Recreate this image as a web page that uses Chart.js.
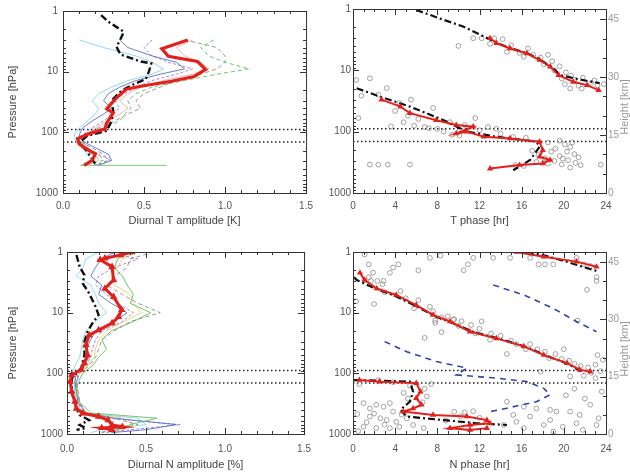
<!DOCTYPE html>
<html>
<head>
<meta charset="utf-8">
<script src="https://cdn.jsdelivr.net/npm/chart.js@4.4.1/dist/chart.umd.min.js"></script>
<style>
  body { margin: 0; background: #fff; }
  #wrap { position: relative; width: 630px; height: 475px; }
  canvas { position: absolute; }
</style>
</head>
<body>
<div id="wrap">
  <canvas id="tAmpChart" width="320" height="237" style="left:0;top:0"></canvas>
  <canvas id="tPhaseChart" width="310" height="237" style="left:320px;top:0"></canvas>
  <canvas id="nAmpChart" width="320" height="238" style="left:0;top:237px"></canvas>
  <canvas id="nPhaseChart" width="310" height="238" style="left:320px;top:237px"></canvas>
</div>
<script>
// axis tick labels
const pressureTicks = [1, 10, 100, 1000];
const ampTicks = [0.0, 0.5, 1.0, 1.5];
const hourTicks = [0, 4, 8, 12, 16, 20, 24];
const heightTicks = [0, 15, 30, 45];
const tropopause = [90, 145];   // hPa, dotted lines

// ---- diurnal T amplitude (K) ----
const tAmpLevels = [3, 4, 5.5, 7, 9, 11, 14, 18, 23, 30, 40, 50, 65, 85, 110, 140, 180, 230, 290, 350];
const tAmpGreen  = [0.93, 0.85, 0.90, 1.00, 1.15, 0.95, 0.75, 0.55, 0.45, 0.40, 0.42, 0.38, 0.35, 0.25, 0.15, 0.12, 0.15, 0.22, 0.25, 0.11];
const tAmpGrey   = [0.75, 0.95, 1.00, 1.00, 0.95, 0.85, 0.70, 0.60, 0.50, 0.45, 0.48, 0.40, 0.32, 0.22, 0.12, 0.10, 0.18, 0.25, 0.28, 0.20];
const tAmpCyan   = [0.10, 0.25, 0.45, 0.55, 0.62, 0.55, 0.40, 0.30, 0.22, 0.18, 0.22, 0.20, 0.15, 0.10, 0.07, 0.08, 0.12, 0.15, 0.18, 0.12];
const tAmpBlue   = [0.35, 0.40, 0.55, 0.70, 0.75, 0.60, 0.45, 0.35, 0.28, 0.25, 0.30, 0.25, 0.18, 0.12, 0.10, 0.12, 0.20, 0.28, 0.30, 0.22];
const tAmpPurple = [0.55, 0.50, 0.55, 0.65, 0.80, 0.70, 0.55, 0.45, 0.38, 0.32, 0.35, 0.30, 0.25, 0.18, 0.12, 0.10, 0.15, 0.22, 0.30, 0.18];
const tAmpPink   = [0.80, 0.70, 0.75, 0.85, 0.90, 0.80, 0.62, 0.48, 0.40, 0.35, 0.40, 0.35, 0.28, 0.20, 0.14, 0.12, 0.16, 0.20, 0.22, 0.15];
const tAmpSurfP  = [350, 350];
const tAmpSurf   = [0.11, 0.64];
const tAmpMeanP  = [3.0, 4.2, 5.6, 6.8, 9.2, 12, 14.4, 17.4, 19.5, 27, 33, 41, 48, 70, 87, 106, 127, 155, 200, 225, 290, 350];
const tAmpMean   = [0.77, 0.61, 0.65, 0.83, 0.88, 0.81, 0.67, 0.48, 0.39, 0.33, 0.30, 0.27, 0.31, 0.27, 0.26, 0.16, 0.09, 0.10, 0.16, 0.20, 0.18, 0.13];
const tAmpRefP   = [1.17, 1.5, 2.2, 2.9, 3.9, 5.2, 6.8, 7.3, 10, 13.4, 15.5, 18.7, 22.5, 30, 45, 65, 94, 114, 148, 200, 350];
const tAmpRef    = [0.235, 0.28, 0.375, 0.355, 0.33, 0.355, 0.48, 0.545, 0.53, 0.51, 0.45, 0.39, 0.345, 0.30, 0.31, 0.30, 0.27, 0.15, 0.10, 0.145, 0.205];

// ---- T phase (hr) ----
const tPhaseUpP    = [3.0, 3.6, 4.4, 5.3, 6.8, 8.7, 12, 15.4, 17.4, 21];
const tPhaseUp     = [13.0, 13.6, 14.9, 16.5, 17.7, 18.7, 19.5, 20.9, 22.2, 23.3];
const tPhaseLowP   = [30, 39, 50, 65, 78, 83, 107, 100, 121, 129, 146, 200, 257, 290, 330, 350, 400];
const tPhaseLow    = [2.7, 4.5, 5.4, 7.9, 9.8, 11.4, 9.8, 10.8, 12.4, 14.9, 17.7, 18.0, 17.7, 18.7, 18.0, 15.8, 13.0];
const tPhaseRefUpP = [1.04, 1.5, 1.95, 2.8, 3.6, 4.4, 5.3, 6.8, 8.7, 12, 13.5, 15, 16.2];
const tPhaseRefUp  = [6.0, 8.6, 10.5, 12.4, 13.7, 15.0, 16.6, 17.8, 18.8, 19.7, 21.0, 22.3, 23.4];
const tPhaseRefLowP = [19.6, 27, 39, 65, 100, 121, 146, 177, 290, 425];
const tPhaseRefLow  = [0.35, 2.6, 5.4, 8.6, 10.8, 13.6, 17.4, 17.7, 16.8, 15.2];
const tPhaseObs = [
  [11.4, 3.0], [10.0, 4.0], [12.2, 3.0], [13.4, 3.0], [14.2, 3.1], [13.0, 3.7], [15.0, 3.9], [14.6, 5.0],
  [15.8, 5.2], [16.6, 4.4], [17.1, 5.6], [16.2, 6.0], [17.8, 6.2], [18.5, 5.6], [18.9, 7.1], [18.1, 8.0],
  [19.6, 8.6], [19.1, 10.0], [20.2, 10.8], [20.7, 12.2], [19.8, 13.6], [21.0, 14.2], [21.8, 13.2], [20.1, 16.8],
  [21.4, 17.8], [22.6, 16.0], [23.2, 17.6], [22.9, 14.6], [21.7, 19.8], [20.6, 19.8], [23.8, 16.8],
  [0.3, 14.4], [1.6, 13.5], [0.5, 60], [3.2, 19.5], [2.4, 25], [0.8, 26], [4.4, 34], [5.5, 30], [4.0, 46],
  [5.2, 55], [6.2, 62], [7.6, 41], [5.8, 80], [3.6, 82], [4.8, 70], [6.8, 84], [8.0, 90], [9.2, 70],
  [10.6, 78], [11.6, 60], [12.8, 84], [13.6, 90], [9.4, 112], [10.1, 116], [14.0, 108], [15.2, 122],
  [16.4, 126], [7.2, 88], [8.6, 100], [12.0, 95],
  [18.5, 150], [19.6, 140], [20.1, 162], [20.6, 178], [19.2, 190], [18.8, 212], [20.3, 212], [21.0, 232],
  [19.6, 250], [21.4, 262], [18.2, 272], [19.1, 300], [20.4, 292], [21.1, 322], [19.8, 342], [18.5, 332],
  [17.4, 312], [21.6, 352], [20.6, 385], [17.0, 205], [16.2, 362], [15.4, 352], [17.6, 240], [19.9, 275], [20.8, 150],
  [1.6, 345], [2.4, 345], [3.3, 345], [5.4, 345], [23.5, 345]
];

// ---- diurnal N amplitude (%) ----
const nAmpLevels = [1, 1.3, 1.8, 2.5, 3.5, 5, 7, 10, 14, 20, 28, 40, 55, 75, 100, 140, 200, 300, 450, 550, 700, 850, 950];
const nAmpGrey   = [0.55, 0.40, 0.38, 0.30, 0.25, 0.35, 0.45, 0.59, 0.40, 0.30, 0.22, 0.20, 0.18, 0.14, 0.08, 0.06, 0.07, 0.08, 0.12, 0.30, 0.45, 0.30, 0.20];
const nAmpGreen  = [0.40, 0.32, 0.30, 0.35, 0.38, 0.42, 0.40, 0.53, 0.42, 0.28, 0.22, 0.25, 0.20, 0.16, 0.10, 0.07, 0.06, 0.08, 0.15, 0.57, 0.40, 0.32, 0.25];
const nAmpBlue   = [0.30, 0.22, 0.18, 0.15, 0.22, 0.20, 0.28, 0.38, 0.30, 0.18, 0.15, 0.12, 0.14, 0.10, 0.06, 0.05, 0.06, 0.07, 0.12, 0.30, 0.69, 0.50, 0.28];
const nAmpCyan   = [0.20, 0.12, 0.10, 0.06, 0.15, 0.18, 0.20, 0.25, 0.18, 0.12, 0.10, 0.09, 0.08, 0.05, 0.04, 0.05, 0.05, 0.06, 0.10, 0.45, 0.50, 0.22, 0.15];
const nAmpPurple = [0.25, 0.45, 0.30, 0.20, 0.18, 0.25, 0.32, 0.42, 0.35, 0.22, 0.18, 0.16, 0.15, 0.12, 0.07, 0.06, 0.06, 0.07, 0.10, 0.25, 0.72, 0.40, 0.22];
const nAmpPink   = [0.45, 0.35, 0.32, 0.28, 0.30, 0.40, 0.42, 0.47, 0.36, 0.25, 0.20, 0.18, 0.17, 0.13, 0.08, 0.06, 0.07, 0.08, 0.12, 0.35, 0.42, 0.35, 0.30];
const nAmpMeanP  = [1.0, 1.12, 1.27, 1.35, 1.75, 2.9, 4.0, 5.5, 9.0, 11.7, 14.9, 19.4, 23.4, 34, 50, 68, 87, 106, 137, 200, 293, 380, 456, 515, 590, 710, 760, 795, 855];
const nAmpMean   = [0.41, 0.34, 0.24, 0.21, 0.285, 0.295, 0.24, 0.295, 0.346, 0.326, 0.285, 0.20, 0.14, 0.12, 0.13, 0.11, 0.09, 0.03, 0.02, 0.03, 0.05, 0.06, 0.10, 0.20, 0.26, 0.285, 0.35, 0.22, 0.285];
const nAmpRefP   = [1.12, 1.75, 2.4, 3.3, 4.8, 7.9, 10.9, 15, 20.6, 30, 50, 83, 121, 200, 330, 485, 590, 710, 800, 855];
const nAmpRef    = [0.06, 0.08, 0.11, 0.10, 0.14, 0.18, 0.20, 0.16, 0.13, 0.11, 0.11, 0.09, 0.03, 0.03, 0.05, 0.08, 0.14, 0.08, 0.12, 0.06];

// ---- N phase (hr) ----
const nPhaseTopP     = [1.0, 1.2, 1.44, 1.75];
const nPhaseTop      = [15.5, 18.1, 21.2, 23.1];
const nPhaseRefTopP  = [1.0, 1.1, 1.4, 1.8, 2.1];
const nPhaseRefTop   = [16.5, 17.8, 20.0, 22.0, 23.3];
const nPhaseMidP     = [2.2, 2.9, 4.0, 5.1, 7.5, 10.9, 14, 20.6, 26.5, 36, 50, 68, 87, 94];
const nPhaseMid      = [0.66, 1.1, 2.25, 4.1, 6.0, 7.6, 9.2, 11.1, 13.6, 16.2, 18.1, 20.3, 21.5, 22.5];
const nPhaseRefMidP  = [2.6, 2.9, 4.0, 5.3, 7.8, 11.5, 15, 21, 27, 37, 52, 70, 88, 100];
const nPhaseRefMid   = [0.1, 0.35, 2.1, 4.0, 6.0, 7.8, 9.5, 11.5, 13.9, 16.5, 18.4, 20.4, 21.4, 21.9];
const nPhaseLowP     = [129, 137, 145, 200, 257, 330, 380, 427, 485, 515, 590, 665, 710, 800, 855, 800];
const nPhaseLow      = [0.6, 2.5, 6.0, 6.4, 6.0, 6.5, 5.7, 4.8, 7.6, 10.8, 12.7, 13.0, 11.1, 9.2, 11.1, 12.7];
const nPhaseRefLowP  = [129, 137, 200, 293, 400, 515, 590, 665, 710];
const nPhaseRefLow   = [0.1, 5.4, 5.7, 5.4, 4.5, 5.1, 8.6, 11.7, 14.6];
const nPhaseModelAP  = [3.5, 5.1, 8.5, 14, 20.6];
const nPhaseModelA   = [13.3, 16.2, 19.0, 21.2, 23.1];
const nPhaseModelBP  = [30, 44, 64, 82, 106, 120, 137, 177, 226, 293, 375, 427];
const nPhaseModelB   = [3.0, 5.1, 7.9, 10.8, 9.8, 13.6, 16.5, 18.1, 18.7, 17.4, 14.6, 13.0];
const nPhaseObs = [
  [1.1, 1.1], [1.5, 1.6], [1.9, 2.2], [3.5, 2.2], [2.9, 3.0], [2.3, 3.0], [1.7, 3.0], [1.1, 2.9], [4.3, 1.6],
  [7.3, 1.25], [11.4, 1.25], [10.9, 1.6], [13.3, 1.25], [14.9, 1.25], [16.8, 1.25], [17.6, 1.6], [18.2, 1.6],
  [19.0, 1.6], [21.2, 1.25], [21.9, 1.6], [22.5, 1.7], [23.1, 3.0], [23.1, 2.6], [22.2, 4.2], [3.8, 1.8],
  [6.2, 2.0], [10.5, 2.0], [8.3, 1.15],
  [1.5, 2.6], [2.8, 3.4], [3.0, 4.6], [4.5, 4.4], [5.0, 5.8], [6.2, 6.2], [5.8, 8.5], [7.3, 8.0], [7.6, 9.5],
  [8.4, 12], [7.8, 13.5], [9.0, 11.5], [9.6, 12.8], [10.3, 13.8], [10.0, 16.5], [11.2, 16], [12.0, 18.5],
  [11.6, 22], [13.1, 22], [14.0, 24], [13.0, 28], [15.0, 29], [15.5, 33], [16.8, 33], [16.4, 40], [17.5, 40],
  [18.2, 44], [19.2, 48], [18.6, 56], [19.8, 58], [20.5, 62], [21.0, 70], [21.6, 76], [22.3, 80], [23.0, 72],
  [22.6, 98], [23.5, 92], [21.9, 110], [23.7, 60], [23.2, 50], [20.0, 40], [21.3, 13.5], [8.4, 21], [12.2, 13.9],
  [9.5, 13], [7.8, 14.7], [0.3, 6.5], [2.0, 7.2], [6.8, 26], [14.6, 48], [17.8, 94], [20.6, 112],
  [1.0, 310], [1.6, 380], [2.2, 330], [2.9, 355], [3.5, 310], [3.8, 427], [1.6, 515], [2.6, 550], [3.2, 590],
  [4.1, 630], [5.1, 550], [1.0, 760], [2.2, 800], [3.5, 800], [4.4, 760], [5.7, 710], [6.7, 800], [0.5, 900],
  [1.3, 640], [2.0, 460], [4.6, 480], [3.0, 700], [0.4, 470], [5.4, 160], [6.8, 180], [7.0, 240], [5.2, 260],
  [6.6, 300], [4.8, 210], [7.4, 150], [3.8, 140], [2.4, 130], [0.6, 150],
  [9.6, 430], [10.6, 440], [11.4, 420], [10.2, 510], [12.0, 540], [8.8, 600],
  [14.6, 293], [16.2, 355], [15.2, 485], [16.8, 515], [18.7, 590], [19.3, 427], [18.1, 710], [19.9, 760],
  [21.2, 665], [21.8, 855], [20.6, 427], [22.5, 330], [23.1, 710], [19.0, 910], [16.2, 800], [14.3, 710],
  [15.5, 630], [17.4, 380], [18.7, 400], [21.5, 485], [23.3, 550], [22.0, 260], [23.6, 200], [20.2, 230],
  [23.0, 120], [21.0, 180]
];

const scaleHeightKm = 6.9;
const heightTop = scaleHeightKm * Math.log(1000);  // km at 1 hPa

Chart.defaults.font.family = "'Liberation Sans', Arial, sans-serif";
Chart.defaults.animation = false;

const RED = '#e3211c';
const REF = '#111';
const REF_DASH = [7, 3, 2, 3];

function isMajor(v, majors) {
  return majors.some(m => Math.abs(m - v) < 1e-6);
}

function stepTicks(min, max, step) {
  const out = [];
  const n = Math.round((max - min) / step);
  for (let i = 0; i <= n; i++) out.push(+(min + i * step).toFixed(4));
  return out;
}

function logTicks() {
  const out = [];
  [1, 10, 100].forEach(d => { for (let k = 1; k < 10; k++) out.push(d * k); });
  out.push(1000);
  return out;
}

function line(xs, ps, color, width, dash, extra) {
  return Object.assign({
    data: xs.map((x, i) => ({ x: x, y: ps[i] })),
    showLine: true,
    borderColor: color,
    backgroundColor: color,
    borderWidth: width,
    borderDash: dash || [],
    pointRadius: 0,
    fill: false
  }, extra || {});
}

function markers(pairs) {
  return {
    data: pairs.map(([h, p]) => ({ x: h, y: p })),
    showLine: false,
    pointStyle: 'circle',
    pointRadius: 2.4,
    pointBorderWidth: 0.8,
    pointBorderColor: '#8c8c8c',
    pointBackgroundColor: 'rgba(0,0,0,0)'
  };
}

function tropoLines(xmin, xmax) {
  return tropopause.map(p => line([xmin, xmax], [p, p], '#222', 1.5, [1.5, 2.5]));
}

function xAxis(min, max, majors, minorStep, title, fmt, boxH, tickPad, titlePad) {
  return {
    type: 'linear', position: 'bottom', min: min, max: max,
    grid: { display: false, drawTicks: false },
    border: { display: false },
    afterBuildTicks: s => { s.ticks = stepTicks(min, max, minorStep).map(v => ({ value: v })); },
    ticks: {
      autoSkip: false, maxRotation: 0, padding: tickPad, color: '#555', font: { size: 10 },
      callback: v => isMajor(v, majors) ? fmt(v) : ''
    },
    title: { display: true, text: title, color: '#444', font: { size: 11 }, padding: { top: 0, bottom: titlePad } },
    afterFit: s => { s.height = boxH; }
  };
}

function pressureAxis(boxW, showTitle, tickPad) {
  return {
    type: 'logarithmic', position: 'left', reverse: true, min: 1, max: 1000,
    grid: { display: false, drawTicks: false },
    border: { display: false },
    afterBuildTicks: s => { s.ticks = logTicks().map(v => ({ value: v })); },
    ticks: {
      autoSkip: false, padding: tickPad, color: '#555', font: { size: 10 },
      callback: v => isMajor(v, pressureTicks) ? String(v) : ''
    },
    title: { display: showTitle, text: 'Pressure [hPa]', color: '#444', font: { size: 11 }, padding: { top: 6, bottom: 0 } },
    afterFit: s => { s.width = boxW; }
  };
}

function heightAxis(boxW) {
  return {
    type: 'linear', position: 'right', min: 0, max: heightTop,
    grid: { display: false, drawTicks: false },
    border: { display: false },
    afterBuildTicks: s => { s.ticks = stepTicks(0, 45, 5).map(v => ({ value: v })); },
    ticks: {
      autoSkip: false, padding: 2, color: '#9a9a9a', font: { size: 10 },
      callback: v => isMajor(v, heightTicks) ? String(v) : ''
    },
    afterFit: s => { s.width = boxW; }
  };
}

// box around the plot area with inward tick marks, like the original IDL plots
const frameTicks = {
  id: 'frameTicks',
  afterDatasetsDraw(chart) {
    const { ctx, chartArea: a, scales } = chart;
    ctx.save();
    ctx.strokeStyle = '#333';
    ctx.lineWidth = 1;
    ctx.setLineDash([]);
    ctx.strokeRect(a.left + 0.5, a.top + 0.5, a.right - a.left, a.bottom - a.top);
    ctx.beginPath();
    scales.x.ticks.forEach(t => {
      const x = Math.round(scales.x.getPixelForValue(t.value)) + 0.5;
      const len = t.label ? 6 : 3;
      ctx.moveTo(x, a.bottom); ctx.lineTo(x, a.bottom - len);
      ctx.moveTo(x, a.top); ctx.lineTo(x, a.top + len);
    });
    scales.y.ticks.forEach(t => {
      const y = Math.round(scales.y.getPixelForValue(t.value)) + 0.5;
      const len = t.label ? 6 : 3;
      ctx.moveTo(a.left, y); ctx.lineTo(a.left + len, y);
      if (!scales.y2) { ctx.moveTo(a.right, y); ctx.lineTo(a.right - len, y); }
    });
    if (scales.y2) {
      scales.y2.ticks.forEach(t => {
        const y = Math.round(scales.y2.getPixelForValue(t.value)) + 0.5;
        const len = t.label ? 6 : 3;
        ctx.moveTo(a.right, y); ctx.lineTo(a.right - len, y);
      });
    }
    ctx.stroke();
    if (scales.y2) {
      ctx.translate(chart.width - 5, (a.top + a.bottom) / 2 + 6);
      ctx.rotate(-Math.PI / 2);
      ctx.fillStyle = '#9a9a9a';
      ctx.font = "11px 'Liberation Sans', Arial, sans-serif";
      ctx.textAlign = 'center';
      ctx.textBaseline = 'middle';
      ctx.fillText('Height [km]', 0, 0);
    }
    ctx.restore();
  }
};

function makePanel(id, datasets, scales, padding) {
  new Chart(document.getElementById(id), {
    type: 'scatter',
    data: { datasets: datasets },
    options: {
      responsive: false,
      layout: { padding: padding },
      scales: scales,
      plugins: { legend: { display: false }, tooltip: { enabled: false } }
    },
    plugins: [frameTicks]
  });
}

const redMarks = { pointRadius: 1.6, pointStyle: 'triangle' };

// top left: diurnal T amplitude
makePanel('tAmpChart', [
  line(tAmpMean, tAmpMeanP, RED, 3.2),
  line(tAmpRef, tAmpRefP, REF, 2.4, REF_DASH),
  line(tAmpGreen, tAmpLevels, '#5cbf5c', 0.9, [4, 3]),
  line(tAmpGrey, tAmpLevels, '#8a8a8a', 0.9, [4, 3]),
  line(tAmpCyan, tAmpLevels, '#86d6e6', 0.9),
  line(tAmpBlue, tAmpLevels, '#5b6cd0', 0.9),
  line(tAmpPurple, tAmpLevels, '#a27bc8', 0.9, [3, 2]),
  line(tAmpPink, tAmpLevels, '#f2a8a8', 0.9),
  line(tAmpSurf, tAmpSurfP, '#6cc66c', 0.9),
  ...tropoLines(0, 1.5)
], {
  x: xAxis(0, 1.5, ampTicks, 0.1, 'Diurnal T amplitude [K]', v => v.toFixed(1), 44, 7, 9),
  y: pressureAxis(63, true, 5)
}, { top: 9, right: 9, left: 0, bottom: 0 });

// top right: T phase
makePanel('tPhaseChart', [
  line(tPhaseUp, tPhaseUpP, RED, 2, [], redMarks),
  line(tPhaseLow, tPhaseLowP, RED, 2, [], redMarks),
  line(tPhaseRefUp, tPhaseRefUpP, REF, 2.2, REF_DASH),
  line(tPhaseRefLow, tPhaseRefLowP, REF, 2.2, REF_DASH),
  markers(tPhaseObs),
  ...tropoLines(0, 24)
], {
  x: xAxis(0, 24, hourTicks, 1, 'T phase [hr]', v => String(v), 44, 7, 9),
  y: pressureAxis(33, false, 2),
  y2: heightAxis(24)
}, { top: 9, right: 0, left: 0, bottom: 0 });

// bottom left: diurnal N amplitude
makePanel('nAmpChart', [
  line(nAmpMean, nAmpMeanP, RED, 3, [], { pointRadius: 1.3, pointStyle: 'triangle' }),
  line(nAmpRef, nAmpRefP, REF, 2.4, REF_DASH),
  line(nAmpGrey, nAmpLevels, '#8a8a8a', 0.9, [4, 3]),
  line(nAmpGreen, nAmpLevels, '#5cbf5c', 0.9),
  line(nAmpBlue, nAmpLevels, '#5b6cd0', 0.9),
  line(nAmpCyan, nAmpLevels, '#86d6e6', 0.9),
  line(nAmpPurple, nAmpLevels, '#a27bc8', 0.9, [3, 2]),
  line(nAmpPink, nAmpLevels, '#e8d070', 0.9),
  ...tropoLines(0, 1.5)
], {
  x: xAxis(0, 1.5, ampTicks, 0.1, 'Diurnal N amplitude [%]', v => v.toFixed(1), 41, 9, 3),
  y: pressureAxis(67, true, 4)
}, { top: 15, right: 9, left: 0, bottom: 0 });

// bottom right: N phase
makePanel('nPhaseChart', [
  line(nPhaseTop, nPhaseTopP, RED, 2, [], redMarks),
  line(nPhaseMid, nPhaseMidP, RED, 2, [], redMarks),
  line(nPhaseLow, nPhaseLowP, RED, 2, [], redMarks),
  line(nPhaseRefTop, nPhaseRefTopP, REF, 2.2, REF_DASH),
  line(nPhaseRefMid, nPhaseRefMidP, REF, 2.2, REF_DASH),
  line(nPhaseRefLow, nPhaseRefLowP, REF, 2.2, REF_DASH),
  line(nPhaseModelA, nPhaseModelAP, '#3346a8', 1.6, [6, 5]),
  line(nPhaseModelB, nPhaseModelBP, '#3346a8', 1.6, [6, 5]),
  markers(nPhaseObs),
  ...tropoLines(0, 24)
], {
  x: xAxis(0, 24, hourTicks, 1, 'N phase [hr]', v => String(v), 41, 9, 3),
  y: pressureAxis(33, false, 2),
  y2: heightAxis(24)
}, { top: 15, right: 0, left: 0, bottom: 0 });
</script>
</body>
</html>
